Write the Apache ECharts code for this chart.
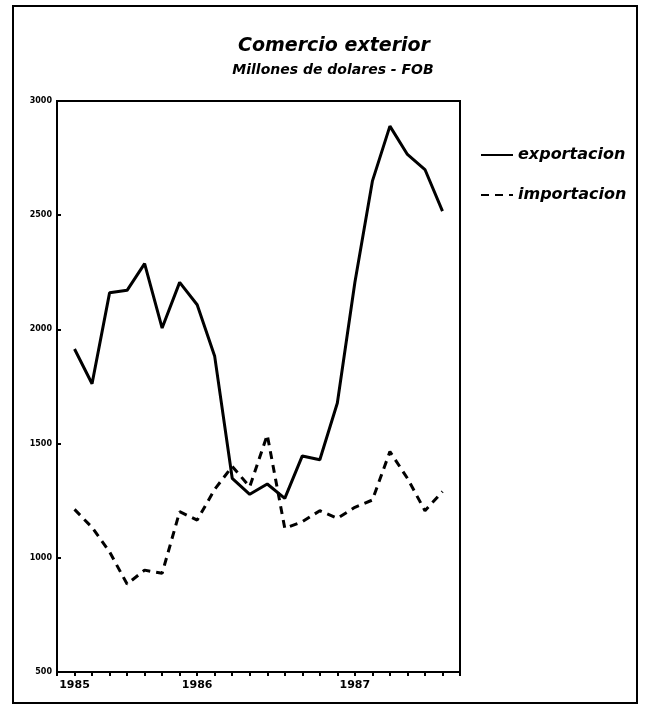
<!DOCTYPE html>
<html>
<head>
<meta charset="utf-8">
<script src="https://cdn.jsdelivr.net/npm/echarts@6/dist/echarts.min.js"></script>
<style>
html,body{margin:0;padding:0;background:#fff;}
#chart{width:647px;height:706px;}
</style>
</head>
<body>
<div id="chart"></div>
<script>
// Data (millions of dollars, FOB)
var exportacion = [1914, 1762, 2160, 2171, 2288, 2006, 2206, 2108, 1882, 1348, 1278, 1323, 1260, 1446, 1429, 1678, 2205, 2649, 2890, 2766, 2700, 2518];
var importacion = [1212, 1133, 1026, 885, 946, 932, 1202, 1165, 1300, 1400, 1311, 1538, 1129, 1158, 1206, 1173, 1221, 1253, 1465, 1348, 1206, 1290];
var yearTickPositions = [0, 7, 16];
var yearTickLabels = ['1985', '1986', '1987'];
var seriesNames = ['exportacion', 'importacion'];
var titleText = 'Comercio exterior';
var subtitleText = 'Millones de dolares - FOB';

function toPairs(arr) {
  return arr.map(function (v, i) { return [i, v]; });
}

var chart = echarts.init(document.getElementById('chart'), null, {renderer: 'canvas'});
var fontFam = '"DejaVu Sans", "Liberation Sans", sans-serif';

var option = {
  backgroundColor: '#ffffff',
  animation: false,
  title: [
    {
      text: titleText,
      left: 329, top: 32, textAlign: 'center',
      textStyle: {fontFamily: fontFam, fontSize: 19, fontWeight: 'bold', fontStyle: 'italic', color: '#000'}
    },
    {
      text: subtitleText,
      left: 328, top: 58, textAlign: 'center',
      textStyle: {fontFamily: fontFam, fontSize: 14, fontWeight: 'bold', fontStyle: 'italic', color: '#000'}
    }
  ],
  legend: {
    orient: 'vertical',
    left: 475, top: 142,
    itemWidth: 32, itemHeight: 14,
    itemGap: 24,
    itemStyle: {opacity: 0},
    textStyle: {fontFamily: fontFam, fontSize: 16, fontWeight: 'bold', fontStyle: 'italic', color: '#000', padding: [0, 0, 0, 0]},
    data: seriesNames
  },
  grid: {
    left: 57, top: 101, width: 403, height: 571,
    show: true, borderColor: '#000', borderWidth: 2, backgroundColor: 'transparent'
  },
  xAxis: {
    type: 'value', min: -1, max: 22, interval: 1,
    axisLine: {show: true, onZero: false, lineStyle: {color: '#000', width: 2}},
    axisTick: {show: true, length: 4, lineStyle: {color: '#000', width: 2}},
    splitLine: {show: false},
    axisLabel: {
      show: true, margin: 8,
      fontFamily: fontFam, fontSize: 11, fontWeight: 'bold', color: '#000',
      formatter: function (v) {
        var idx = yearTickPositions.indexOf(v);
        return idx >= 0 ? yearTickLabels[idx] : '';
      }
    }
  },
  yAxis: {
    type: 'value', min: 500, max: 3000, interval: 500,
    axisLine: {show: true, onZero: false, lineStyle: {color: '#000', width: 2}},
    axisTick: {show: true, inside: true, length: 4, lineStyle: {color: '#000', width: 2}},
    splitLine: {show: false},
    axisLabel: {
      show: true, margin: 5,
      fontFamily: fontFam, fontSize: 8, fontWeight: 'bold', color: '#000',
      formatter: function (v) { return String(v); }
    }
  },
  series: [
    {
      name: seriesNames[0], type: 'line', data: toPairs(exportacion),
      symbol: 'none', smooth: false,
      lineStyle: {color: '#000', width: 3, type: 'solid'},
      itemStyle: {color: '#000'}
    },
    {
      name: seriesNames[1], type: 'line', data: toPairs(importacion),
      symbol: 'none', smooth: false,
      lineStyle: {color: '#000', width: 3, type: [8, 6]},
      itemStyle: {color: '#000'}
    }
  ],
  graphic: [
    {
      type: 'rect', silent: true,
      shape: {x: 13, y: 6, width: 624, height: 697},
      style: {fill: 'none', stroke: '#000', lineWidth: 2}
    }
  ]
};
chart.setOption(option);
</script>
</body>
</html>
